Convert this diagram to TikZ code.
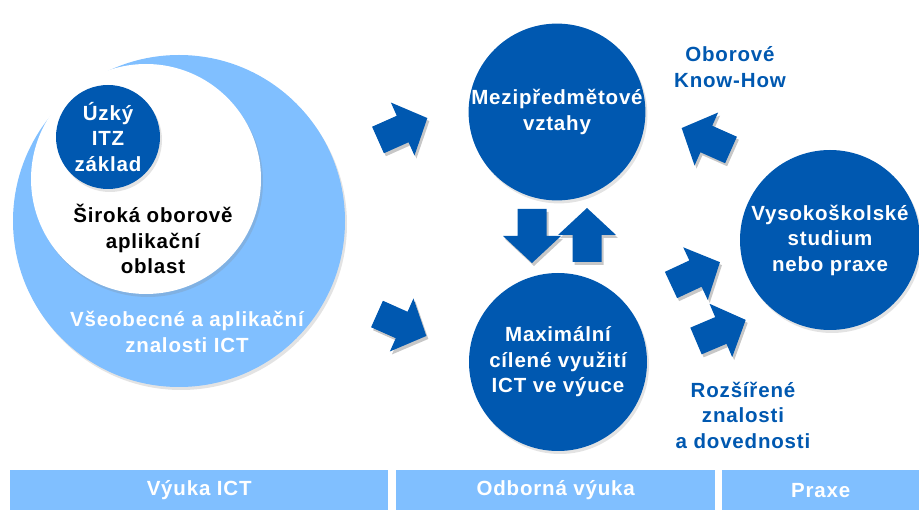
\documentclass[tikz,border=0pt]{standalone}
\usepackage{fontspec}
\setmainfont{Liberation Sans}[LetterSpace=4]
\usetikzlibrary{shadows}
\definecolor{dkblue}{RGB}{0,88,176}
\definecolor{ltblue}{RGB}{128,191,255}
\newcommand\blkarrow[3]{%
  \fill[black,opacity=0.22,shift={(#1+2,#2+3)},rotate=#3]
    (0,-14.5) -- (27,-14.5) -- (27,-29) -- (54,0) -- (27,29) -- (27,14.5) -- (0,14.5) -- cycle;
  \fill[dkblue,shift={(#1,#2)},rotate=#3]
    (0,-14.5) -- (27,-14.5) -- (27,-29) -- (54,0) -- (27,29) -- (27,14.5) -- (0,14.5) -- cycle;}
\begin{document}
\begin{tikzpicture}[x=1pt,y=-1pt,
  lbl/.style={font=\fontsize{20.5}{25.5}\selectfont\bfseries, align=center, inner sep=0pt},
  shd/.style={drop shadow={shadow xshift=2pt, shadow yshift=-3pt, opacity=0.22}},
  dk/.style={circle, fill=dkblue, text=white, lbl, shd},
  barbox/.style={fill=ltblue, draw=none, lbl, text=white, minimum height=40pt, anchor=north west}]
\useasboundingbox (0,0) rectangle (919,510);
% left group
\node[circle, fill=ltblue, minimum size=332pt, inner sep=0pt, shd] (general) at (179,221) {};
\node[circle, fill=white, minimum size=230pt, inner sep=0pt, shd] (broad) at (146,179) {};
\node[dk, minimum size=104pt] (narrow) at (108,137) {Úzký\\ITZ\\základ};
\node[lbl, text=black] (broadtxt) at (153,239) {Široká oborově\\aplikační\\oblast};
\node[lbl, text=white] (gentxt) at (187,332) {Všeobecné a aplikační\\znalosti ICT};
% middle and right circles
\node[dk, minimum size=176pt] (inter) at (557,112) {Mezipředmětové\\vztahy};
\node[dk, minimum size=178pt] (ict) at (558,362) {Maximální\\cílené využití\\ICT ve výuce};
\node[dk, minimum size=180pt] (uni) at (830,240) {Vysokoškolské\\studium\\nebo praxe};
% labels
\node[lbl, text=dkblue] (knowhow) at (730,67) {Oborové\\Know-How};
\node[lbl, text=dkblue] (ext) at (743,415) {Rozšířené\\znalosti\\a dovednosti};
% block arrows
\blkarrow{378}{140}{24}
\blkarrow{377}{314}{-24}
\blkarrow{532}{209}{-90}
\blkarrow{587}{262}{90}
\blkarrow{731}{150}{156}
\blkarrow{671}{285}{25}
\blkarrow{696}{341}{23}
% bottom bars
\node[barbox, minimum width=378pt] (bar1) at (10,470) {Výuka ICT};
\node[barbox, minimum width=319pt] (bar2) at (396,470) {Odborná výuka};
\node[barbox, minimum width=197pt] (bar3) at (722,470) {Praxe};
\end{tikzpicture}
\end{document}
